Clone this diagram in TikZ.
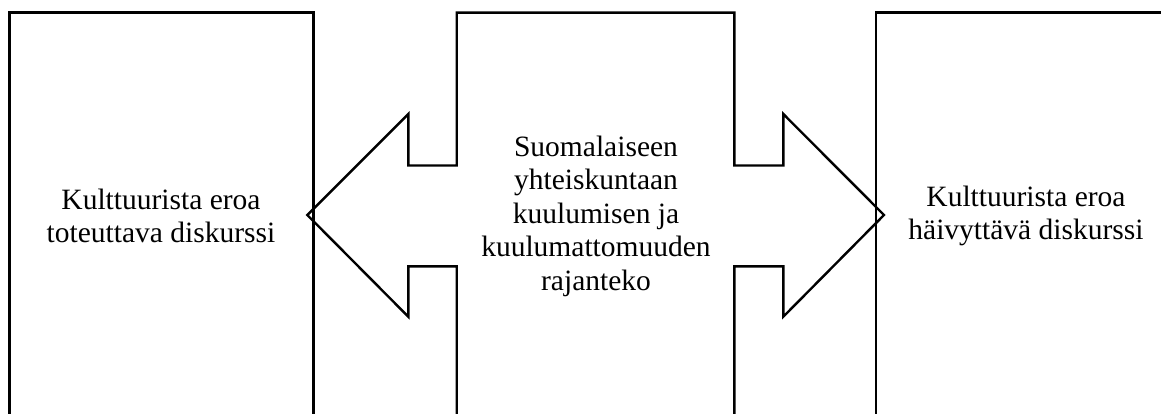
\documentclass[tikz,border=0pt]{standalone}
\usepackage{fontspec}
\setmainfont{Liberation Serif}
\begin{document}
\begin{tikzpicture}[x=1pt,y=-1pt,
  outline/.style={draw=black,line width=2.4pt,line join=miter},
  label/.style={align=center,inner sep=0pt,font=\fontsize{29.5}{33.5}\selectfont}]
\useasboundingbox (0,0) rectangle (1161,414);
\clip (0,0) rectangle (1161,414);
% left box
\draw[outline] (9.5,430) -- (9.5,12.7) -- (313.3,12.7) -- (313.3,430);
% right box
\draw[outline] (875.7,430) -- (875.7,12.7) -- (1179.5,12.7) -- (1179.5,430);
% central double arrow
\draw[outline] (456.7,430) -- (456.7,266.3) -- (408.3,266.3) -- (408.3,316.7)
  -- (307.3,215) -- (408.3,114) -- (408.3,165.5) -- (456.7,165.5)
  -- (456.7,12.7) -- (734.3,12.7) -- (734.3,165.5) -- (783.3,165.5)
  -- (783.3,114) -- (884,215) -- (783.3,316.7) -- (783.3,266.3)
  -- (734.3,266.3) -- (734.3,430);
\node[label] (lefttext) at (161,216) {Kulttuurista eroa\\toteuttava diskurssi};
\node[label] (midtext) at (596,216) {Suomalaiseen\\yhteiskuntaan\\kuulumisen ja\\kuulumattomuuden\\rajanteko};
\node[label] (righttext) at (1026,216) {Kulttuurista eroa\\häivyttävä diskurssi};
\end{tikzpicture}
\end{document}
